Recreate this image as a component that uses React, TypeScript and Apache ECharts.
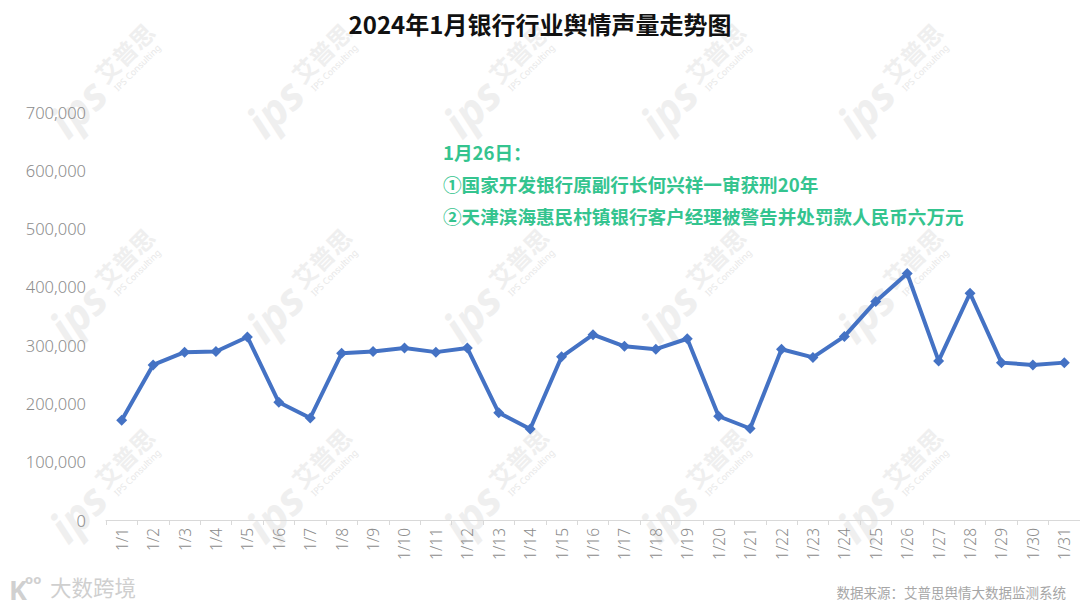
import React, { useEffect, useRef } from "react";
import * as echarts from "echarts";

const categories = [
  "1/1", "1/2", "1/3", "1/4", "1/5", "1/6", "1/7", "1/8", "1/9", "1/10",
  "1/11", "1/12", "1/13", "1/14", "1/15", "1/16", "1/17", "1/18", "1/19", "1/20",
  "1/21", "1/22", "1/23", "1/24", "1/25", "1/26", "1/27", "1/28", "1/29", "1/30", "1/31",
];

const volumes = [
  171000, 266000, 288000, 289000, 314000, 202000, 175000, 286000, 289000, 295000,
  288000, 295000, 184000, 156000, 280000, 318000, 298000, 293000, 311000, 178000,
  157000, 293000, 279000, 315000, 375000, 423000, 273000, 389000, 270000, 266000, 270000,
];

const yTicks = { min: 0, max: 700000, interval: 100000 };

const titleText = "2024年1月银行行业舆情声量走势图";
const noteLines = [
  "1月26日：",
  "①国家开发银行原副行长何兴祥一审获刑20年",
  "②天津滨海惠民村镇银行客户经理被警告并处罚款人民币六万元",
];
const sourceText = "数据来源：艾普思舆情大数据监测系统";
const logoText = "大数跨境";

const wmCols = [100, 297, 494, 691, 888];
const wmRows = [85, 290, 490];

export default function App() {
  const ref = useRef<HTMLDivElement>(null);

  useEffect(() => {
    if (!ref.current) return;
    const chart = echarts.init(ref.current, undefined, { renderer: "svg" });

    const watermarks: any[] = [];
    wmRows.forEach((cy) => {
      wmCols.forEach((cx) => {
        watermarks.push({
          type: "group",
          x: cx,
          y: cy,
          rotation: Math.PI / 4,
          silent: true,
          z: 0,
          children: [
            {
              type: "text",
              x: -62,
              y: 0,
              style: {
                text: "ips",
                font: "italic bold 44px 'Noto Sans'",
                fill: "#efefef",
                textVerticalAlign: "middle",
              },
            },
            {
              type: "text",
              x: 4,
              y: -6,
              style: {
                text: "艾普思",
                font: "bold 24px 'Noto Sans CJK SC'",
                fill: "#efefef",
                textVerticalAlign: "middle",
              },
            },
            {
              type: "text",
              x: 8,
              y: 14,
              style: {
                text: "IPS Consulting",
                font: "9px 'Noto Sans'",
                fill: "#e8e8e8",
                textVerticalAlign: "middle",
              },
            },
          ],
        });
      });
    });

    const option: any = {
      animation: false,
      backgroundColor: "#ffffff",
      title: {
        text: titleText,
        left: "center",
        top: 6,
        textStyle: {
          fontSize: 24,
          fontWeight: "bold",
          color: "#111111",
          fontFamily: "'Noto Sans CJK SC', sans-serif",
        },
      },
      grid: { left: 106, right: 0, top: 112, bottom: 91, containLabel: false },
      xAxis: {
        type: "category",
        data: categories,
        boundaryGap: true,
        axisLine: { show: true, lineStyle: { color: "#d9d9d9", width: 1 } },
        axisTick: { show: true, alignWithLabel: false, length: 5, lineStyle: { color: "#d9d9d9" } },
        axisLabel: {
          rotate: 90,
          interval: 0,
          margin: 8,
          fontSize: 15.5,
          color: "#8c8c8c",
          fontFamily: "'Noto Sans', sans-serif",
          fontWeight: 300,
        },
        splitLine: { show: false },
      },
      yAxis: {
        type: "value",
        min: yTicks.min,
        max: yTicks.max,
        interval: yTicks.interval,
        axisLine: { show: false },
        axisTick: { show: false },
        splitLine: { show: false },
        axisLabel: {
          margin: 20,
          fontSize: 16.5,
          color: "#8c8c8c",
          fontFamily: "'Noto Sans', sans-serif",
          fontWeight: 300,
          formatter: (v: number) => v.toLocaleString("en-US"),
        },
      },
      series: [
        {
          type: "line",
          data: volumes,
          symbol: "diamond",
          symbolSize: 11,
          lineStyle: { color: "#4472C4", width: 4 },
          itemStyle: { color: "#4472C4" },
          z: 3,
        },
      ],
      graphic: [
        ...watermarks,
        ...noteLines.map((t, i) => ({
          type: "text",
          left: 443,
          top: 142 + i * 32,
          z: 10,
          style: {
            text: t,
            font: "bold 18.6px 'Noto Sans CJK SC'",
            fill: "#34C48F",
          },
        })),
        {
          type: "text",
          right: 14,
          top: 585,
          z: 10,
          style: {
            text: sourceText,
            font: "13.5px 'Noto Sans CJK SC'",
            fill: "#a6a6a6",
          },
        },
        {
          type: "text",
          left: 9,
          top: 576,
          z: 10,
          style: {
            text: "K",
            font: "bold 27px 'Noto Sans'",
            fill: "#d0d0d0",
          },
        },
        {
          type: "text",
          left: 25,
          top: 572,
          z: 10,
          style: {
            text: "oo",
            font: "bold 13px 'Noto Sans'",
            fill: "#d0d0d0",
          },
        },
        {
          type: "text",
          left: 50,
          top: 576,
          z: 10,
          style: {
            text: logoText,
            font: "21.5px 'Noto Sans CJK SC'",
            fill: "#cfcfcf",
          },
        },
      ],
    };

    chart.setOption(option);
    return () => chart.dispose();
  }, []);

  return (
    <div
      ref={ref}
      style={{ position: "fixed", left: 0, top: 0, width: 1080, height: 611, background: "#fff" }}
    />
  );
}
